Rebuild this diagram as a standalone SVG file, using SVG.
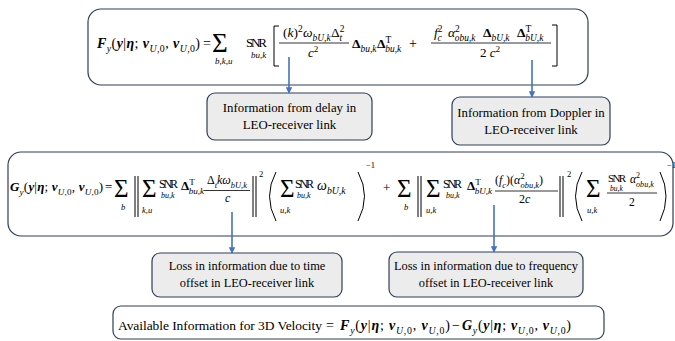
<svg xmlns="http://www.w3.org/2000/svg" width="675" height="341" viewBox="0 0 675 341" font-family="'Liberation Serif', 'DejaVu Serif', serif">
  <defs>
    <style>
      text { font-family: "Liberation Serif", "DejaVu Serif", serif; fill: #000; }
      .i { font-style: italic; }
      .n { font-style: normal; }
      .b { font-weight: bold; }
      .bi { font-weight: bold; font-style: italic; }
      .sb { font-size: 70%; baseline-shift: -3.5px; }
      .sp { font-size: 70%; baseline-shift: 5.5px; }
      .eq { fill: #fff; stroke: #2f3e5a; stroke-width: 1.2; }
      .lb { fill: #ececec; stroke: #2f3e5a; stroke-width: 1.2; }
      .lt { font-size: 12.8px; text-anchor: middle; }
      .lt2 { font-size: 12.4px; text-anchor: middle; }
      .rule { fill: none; stroke: #000; stroke-width: 0.8; }
      .delim { fill: none; stroke: #000; stroke-width: 1; }
      .conn { fill: none; stroke: #4472c4; stroke-width: 1.6; marker-end: url(#arrow); }
    </style>
    <marker id="arrow" viewBox="0 0 10 10" refX="9" refY="5" markerWidth="4" markerHeight="4" orient="auto">
      <path d="M0,0 L10,5 L0,10 z" fill="#4472c4"/>
    </marker>
  </defs>

  <!-- Fisher information expression F_y -->
  <g id="eq-f">
    <rect class="eq" x="88" y="9" width="500" height="76" rx="13"/>
    <text x="97" y="48" font-size="14" textLength="103" lengthAdjust="spacing"><tspan class="bi">F</tspan><tspan class="sb i">y</tspan>(<tspan class="bi">y</tspan>|<tspan class="bi">η</tspan>; <tspan class="bi">v</tspan><tspan class="sb"><tspan class="i">U</tspan>,0</tspan>, <tspan class="bi">v</tspan><tspan class="sb"><tspan class="i">U</tspan>,0</tspan>)</text>
    <text x="203" y="48" font-size="14">=</text>
    <text x="212" y="52" font-size="27">Σ</text>
    <text x="215" y="64" font-size="9" class="i">b,k,u</text>
    <text x="246" y="47" font-size="13" textLength="21" lengthAdjust="spacing">SNR</text>
    <text x="251" y="58" font-size="9" class="i">bu,k</text>
    <path class="delim" d="M279,26 H274 V66 H279"/>
    <!-- first fraction: (k)^2 w_{bU,k} Delta_t^2 / c^2 -->
    <text x="283" y="37" font-size="13.5">(<tspan class="i">k</tspan>)<tspan class="sp">2</tspan></text>
    <text x="303" y="37" font-size="13.5"><tspan class="i">ω</tspan><tspan class="sb i">bU,k</tspan></text>
    <text x="331" y="37" font-size="13.5">Δ<tspan class="sp">2</tspan><tspan class="sb i" dx="-5">t</tspan></text>
    <path class="rule" d="M279,43 H349"/>
    <text x="308" y="57" font-size="13" class="i">c<tspan class="sp n">2</tspan></text>
    <text x="352" y="48" font-size="13.5"><tspan class="b">Δ</tspan><tspan class="sb i">bu,k</tspan></text>
    <text x="377" y="48" font-size="13.5"><tspan class="b">Δ</tspan><tspan class="sp">T</tspan><tspan class="sb i" dx="-6">bu,k</tspan></text>
    <text x="409" y="48" font-size="14">+</text>
    <!-- second fraction: f_c^2 alpha^2 Delta Delta^T / 2c^2 -->
    <text x="434" y="37" font-size="13.5"><tspan class="i">f</tspan><tspan class="sp">2</tspan><tspan class="sb i" dx="-5">c</tspan></text>
    <text x="448" y="37" font-size="13.5"><tspan class="i">α</tspan><tspan class="sp">2</tspan><tspan class="sb i" dx="-5">obu,k</tspan></text>
    <text x="483" y="37" font-size="13.5"><tspan class="b">Δ</tspan><tspan class="sb i">bU,k</tspan></text>
    <text x="517" y="37" font-size="13.5"><tspan class="b">Δ</tspan><tspan class="sp">T</tspan><tspan class="sb i" dx="-6">bU,k</tspan></text>
    <path class="rule" d="M431,43 H551"/>
    <text x="480" y="57" font-size="13">2 <tspan class="i">c</tspan><tspan class="sp">2</tspan></text>
    <path class="delim" d="M552,25 H557 V66 H552"/>
  </g>

  <g id="node-delay">
    <rect class="lb" x="207" y="93" width="165" height="47" rx="8"/>
    <text class="lt" x="289.5" y="112">Information from delay in</text>
    <text class="lt" x="289.5" y="129">LEO-receiver link</text>
  </g>

  <g id="node-doppler">
    <rect class="lb" x="452" y="97" width="158" height="48" rx="8"/>
    <text class="lt" x="531" y="117">Information from Doppler in</text>
    <text class="lt" x="531" y="134">LEO-receiver link</text>
  </g>

  <!-- Information loss expression G_y -->
  <g id="eq-g">
    <rect class="eq" x="8" y="152" width="665" height="84" rx="13"/>
    <text x="10" y="191" font-size="13" textLength="93" lengthAdjust="spacing"><tspan class="bi">G</tspan><tspan class="sb i">y</tspan>(<tspan class="bi">y</tspan>|<tspan class="bi">η</tspan>; <tspan class="bi">v</tspan><tspan class="sb"><tspan class="i">U</tspan>,0</tspan>, <tspan class="bi">v</tspan><tspan class="sb"><tspan class="i">U</tspan>,0</tspan>)</text>
    <text x="105" y="191" font-size="13">=</text>
    <text x="114" y="197" font-size="25">Σ</text>
    <text x="121" y="210" font-size="8.5" class="i">b</text>
    <path class="delim" d="M135,176 V217 M138,176 V217"/>
    <text x="142" y="197" font-size="25">Σ</text>
    <text x="142" y="213" font-size="8.5" class="i">k,u</text>
    <text x="159" y="188" font-size="12" textLength="19" lengthAdjust="spacing">SNR</text>
    <text x="161" y="198" font-size="8" class="i">bu,k</text>
    <text x="181" y="190" font-size="13"><tspan class="b">Δ</tspan><tspan class="sp">T</tspan><tspan class="sb i" dx="-6">bu,k</tspan></text>
    <text x="207" y="184" font-size="12">Δ<tspan class="sb i">t</tspan><tspan class="i">kω</tspan><tspan class="sb i">bU,k</tspan></text>
    <path class="rule" d="M204,190.5 H250"/>
    <text x="225" y="202" font-size="12" class="i">c</text>
    <path class="delim" d="M253,176 V217 M256,176 V217"/>
    <text x="259" y="177" font-size="8.5">2</text>
    <path class="delim" d="M276,172 Q263,196 276,221"/>
    <text x="280" y="197" font-size="25">Σ</text>
    <text x="280" y="213" font-size="8.5" class="i">u,k</text>
    <text x="295" y="188" font-size="12" textLength="19" lengthAdjust="spacing">SNR</text>
    <text x="297" y="198" font-size="8" class="i">bu,k</text>
    <text x="317" y="190" font-size="14"><tspan class="i">ω</tspan><tspan class="sb i">bU,k</tspan></text>
    <path class="delim" d="M358,172 Q371,196 358,221"/>
    <text x="366" y="168" font-size="8.5">−1</text>
    <text x="383" y="192" font-size="13">+</text>
    <text x="397" y="197" font-size="25">Σ</text>
    <text x="404" y="210" font-size="8.5" class="i">b</text>
    <path class="delim" d="M418,176 V217 M421,176 V217"/>
    <text x="426" y="197" font-size="25">Σ</text>
    <text x="426" y="213" font-size="8.5" class="i">u,k</text>
    <text x="443" y="188" font-size="12" textLength="19" lengthAdjust="spacing">SNR</text>
    <text x="446" y="198" font-size="8" class="i">bu,k</text>
    <text x="467" y="190" font-size="13"><tspan class="b">Δ</tspan><tspan class="sp">T</tspan><tspan class="sb i" dx="-6">bU,k</tspan></text>
    <text x="495" y="184" font-size="12">(<tspan class="i">f</tspan><tspan class="sb i">c</tspan>)(<tspan class="i">α</tspan><tspan class="sp">2</tspan><tspan class="sb i" dx="-4">obu,k</tspan>)</text>
    <path class="rule" d="M495,191 H558"/>
    <text x="519" y="203" font-size="12">2<tspan class="i">c</tspan></text>
    <path class="delim" d="M560,176 V217 M563,176 V217"/>
    <text x="567" y="177" font-size="8.5">2</text>
    <path class="delim" d="M582,172 Q569,196 582,221"/>
    <text x="586" y="197" font-size="25">Σ</text>
    <text x="587" y="213" font-size="8.5" class="i">u,k</text>
    <text x="608" y="182" font-size="11" textLength="18" lengthAdjust="spacing">SNR</text>
    <text x="610" y="191" font-size="7.5" class="i">bu,k</text>
    <text x="630" y="183" font-size="11.5"><tspan class="i">α</tspan><tspan class="sp">2</tspan><tspan class="sb i" dx="-4">obu,k</tspan></text>
    <path class="rule" d="M607,193 H657"/>
    <text x="629" y="206" font-size="11.5">2</text>
    <path class="delim" d="M660,172 Q672,196 660,221"/>
    <text x="667" y="168" font-size="8.5">−1</text>
  </g>

  <g id="node-loss-time">
    <rect class="lb" x="152" y="253" width="190" height="44" rx="8"/>
    <text class="lt2" x="247" y="270">Loss in information due to time</text>
    <text class="lt2" x="247" y="287">offset in LEO-receiver link</text>
  </g>

  <g id="node-loss-freq">
    <rect class="lb" x="389" y="252" width="194" height="45" rx="8"/>
    <text class="lt2" x="486" y="270">Loss in information due to frequency</text>
    <text class="lt2" x="486" y="287">offset in LEO-receiver link</text>
  </g>

  <!-- Available information = F_y - G_y -->
  <g id="eq-available">
    <rect class="eq" x="113" y="306" width="491" height="33" rx="8"/>
    <text x="118" y="330" font-size="13.5" textLength="204" lengthAdjust="spacing">Available Information for 3D Velocity</text>
    <text x="326" y="330" font-size="14">=</text>
    <text x="340" y="330" font-size="14" textLength="110" lengthAdjust="spacing"><tspan class="bi">F</tspan><tspan class="sb i">y</tspan>(<tspan class="bi">y</tspan>|<tspan class="bi">η</tspan>; <tspan class="bi">v</tspan><tspan class="sb"><tspan class="i">U</tspan>,0</tspan>, <tspan class="bi">v</tspan><tspan class="sb"><tspan class="i">U</tspan>,0</tspan>)</text>
    <text x="452" y="330" font-size="14">−</text>
    <text x="462" y="330" font-size="14" textLength="109" lengthAdjust="spacing"><tspan class="bi">G</tspan><tspan class="sb i">y</tspan>(<tspan class="bi">y</tspan>|<tspan class="bi">η</tspan>; <tspan class="bi">v</tspan><tspan class="sb"><tspan class="i">U</tspan>,0</tspan>, <tspan class="bi">v</tspan><tspan class="sb"><tspan class="i">U</tspan>,0</tspan>)</text>
  </g>

  <g id="connectors">
    <path class="conn" d="M289,57 V93"/>
    <path class="conn" d="M532,60 V97"/>
    <path class="conn" d="M232,212 V253"/>
    <path class="conn" d="M494,205 V252"/>
  </g>
</svg>
